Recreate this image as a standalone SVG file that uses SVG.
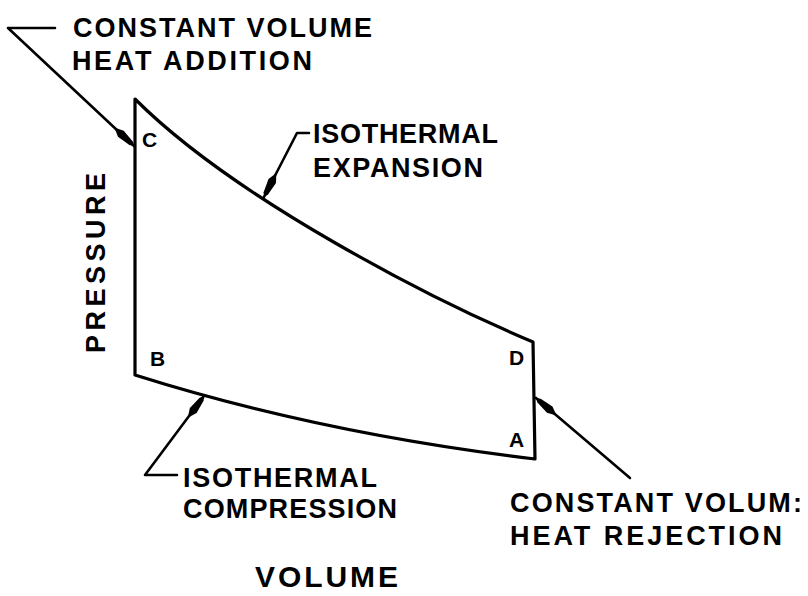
<svg xmlns="http://www.w3.org/2000/svg" width="808" height="596" viewBox="0 0 808 596">
<style>
.lbl{font-family:"Liberation Sans",Arial,sans-serif;font-weight:bold;font-size:27px;fill:#000}
.pt{font-family:"Liberation Sans",Arial,sans-serif;font-weight:bold;font-size:21px;fill:#000}
.outline{fill:none;stroke:#000;stroke-width:3.2;stroke-linejoin:round;stroke-linecap:round}
.lead{fill:none;stroke:#000;stroke-width:2.6;stroke-linejoin:round;stroke-linecap:round}
</style>
<defs>
<marker id="spindle" markerUnits="userSpaceOnUse" markerWidth="34" markerHeight="12" viewBox="-30 -6 34 12" refX="0" refY="0" orient="auto">
<path d="M0,0 L-4,-2.5 L-18,-4.2 L-27,0 L-18,4.2 L-4,2.5 Z" fill="#000"/>
</marker>
</defs>
<rect width="808" height="596" fill="#fff"/>
<g id="cycle">
<path class="outline" d="M135,375 L135,99 C235,199 433,300 533,342 L535,459 C401,443 268,417 135,375 Z"/>
</g>
<g id="point-C"><text class="pt" x="142" y="147">C</text></g>
<g id="point-B"><text class="pt" x="150" y="366">B</text></g>
<g id="point-D"><text class="pt" x="509" y="365">D</text></g>
<g id="point-A"><text class="pt" x="509" y="447">A</text></g>
<g id="connectors">
<polyline class="lead" points="55,28 8,28 134,146" marker-end="url(#spindle)"/>
<polyline class="lead" points="309,133 297,133 264,197" marker-end="url(#spindle)"/>
<polyline class="lead" points="177,475 145,475 204,396" marker-end="url(#spindle)"/>
<polyline class="lead" points="630,478 536,398" marker-end="url(#spindle)"/>
</g>
<g id="label-cv-add">
<text class="lbl" x="73" y="37" textLength="299" lengthAdjust="spacing">CONSTANT  VOLUME</text>
<text class="lbl" x="72" y="70" textLength="240" lengthAdjust="spacing">HEAT  ADDITION</text>
</g>
<g id="label-iso-exp">
<text class="lbl" x="313" y="143" textLength="185" lengthAdjust="spacing">ISOTHERMAL</text>
<text class="lbl" x="313" y="177" textLength="170" lengthAdjust="spacing">EXPANSION</text>
</g>
<g id="label-iso-comp">
<text class="lbl" x="183" y="487" textLength="194" lengthAdjust="spacing">ISOTHERMAL</text>
<text class="lbl" x="183" y="518" textLength="214" lengthAdjust="spacing">COMPRESSION</text>
</g>
<g id="label-cv-rej">
<text class="lbl" x="510" y="512" textLength="292" lengthAdjust="spacing">CONSTANT  VOLUM:</text>
<text class="lbl" x="510" y="545" textLength="272" lengthAdjust="spacing">HEAT  REJECTION</text>
</g>
<g id="axis-pressure">
<text class="lbl" transform="translate(105,353) rotate(-90)" x="0" y="0" textLength="180" lengthAdjust="spacing">PRESSURE</text>
</g>
<g id="axis-volume">
<text class="lbl" x="255" y="587" textLength="143" lengthAdjust="spacing" style="font-size:30px">VOLUME</text>
</g>
</svg>
